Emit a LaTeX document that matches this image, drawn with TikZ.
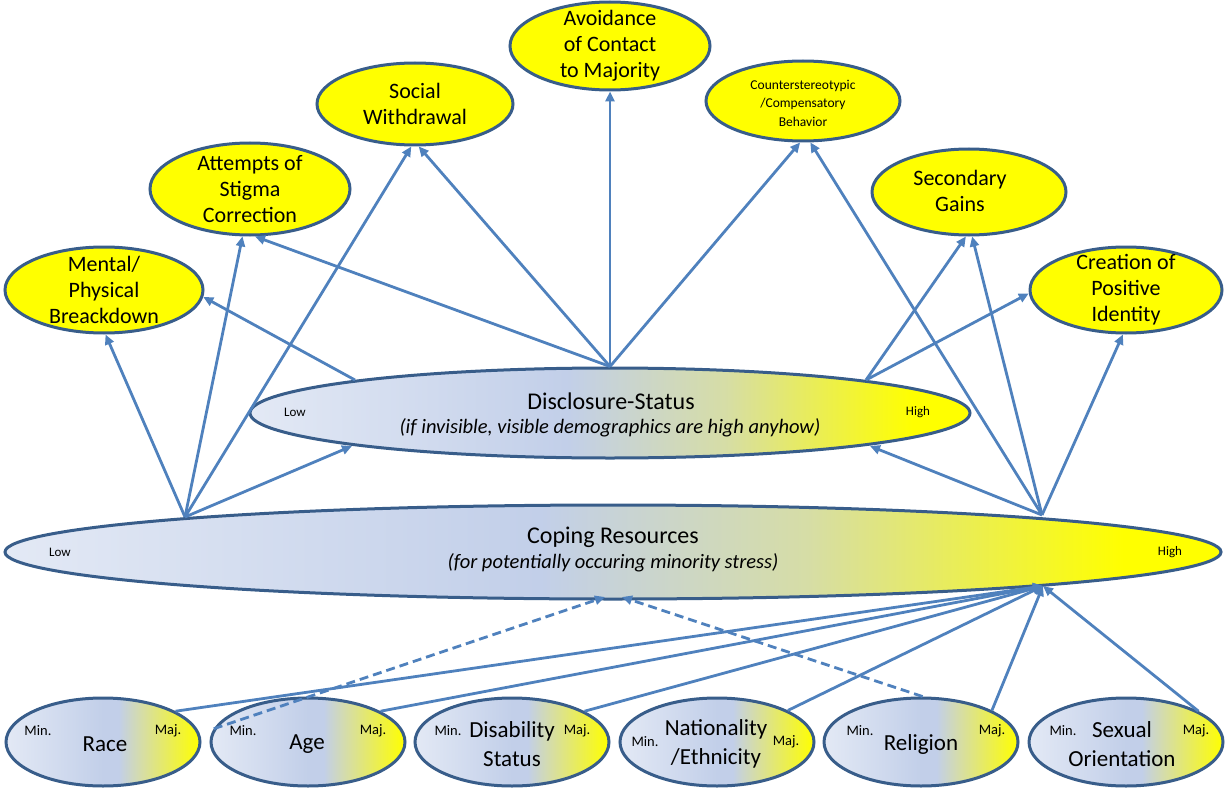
\documentclass[tikz,border=0pt]{standalone}
\usepackage{fontspec}
\setmainfont{Carlito}
\usetikzlibrary{arrows.meta,shapes.geometric,calc}
\definecolor{lineblue}{HTML}{4F81BD}
\definecolor{edgeblue}{HTML}{385D8A}
\definecolor{lightblu}{HTML}{E3E9F5}
\definecolor{midblu}{HTML}{C2CFE9}
\definecolor{myyg}{HTML}{D6DDA6}
\definecolor{myyellow}{HTML}{FFFF00}
\pgfdeclarehorizontalshading{wideshade}{100bp}{color(0bp)=(lightblu); color(25bp)=(lightblu); color(47bp)=(midblu); color(58bp)=(myyg); color(71bp)=(myyellow); color(100bp)=(myyellow)}
\pgfdeclarehorizontalshading{smallshade}{100bp}{color(0bp)=(lightblu); color(25bp)=(lightblu); color(50bp)=(midblu); color(54bp)=(midblu); color(60bp)=(myyg); color(75bp)=(myyellow); color(100bp)=(myyellow)}
\begin{document}
\begin{tikzpicture}[x=1pt,y=-1pt,
  ell/.style={ellipse, draw=edgeblue, line width=3pt, inner sep=0pt},
  topell/.style={ell, fill=myyellow},
  botell/.style={ell, shading=smallshade, minimum width=194pt, minimum height=88pt},
  txt/.style={align=center, inner sep=0pt, font=\fontsize{22}{26}\selectfont},
  bigtxt/.style={align=center, inner sep=0pt, font=\fontsize{23}{29}\selectfont},
  headtxt/.style={inner sep=0pt, font=\fontsize{24}{29}\selectfont},
  smalltxt/.style={align=center, inner sep=0pt, font=\fontsize{13.5}{18.5}\selectfont},
  subtxt/.style={inner sep=0pt, font=\itshape\fontsize{20.5}{24}\selectfont},
  tag/.style={inner sep=0pt, font=\fontsize{13}{15}\selectfont},
  mtag/.style={inner sep=0pt, font=\fontsize{14.5}{16}\selectfont},
  arr/.style={lineblue, line width=2.8pt, -{Triangle[length=10pt,width=9pt]}},
  darr/.style={arr, dash pattern=on 9pt off 5pt}]
\useasboundingbox (0,0) rectangle (1226,789);

% top outcome ellipses
\node[topell, minimum width=198pt, minimum height=86pt] (mental) at (104,290) {};
\node[txt] (mental-t) at (mental) {Mental/\\Physical\\Breackdown};
\node[topell, minimum width=200pt, minimum height=92pt] (att) at (250,189) {};
\node[txt] (att-t) at (att) {Attempts of\\Stigma\\Correction};
\node[topell, minimum width=196pt, minimum height=82pt] (social) at (415,104) {};
\node[txt] (social-t) at (415,104) {Social\\Withdrawal};
\node[topell, minimum width=200pt, minimum height=88pt] (avoid) at (610,46) {};
\node[txt] (avoid-t) at (610,46) {Avoidance\\of Contact\\to Majority};
\node[topell, minimum width=194pt, minimum height=80pt] (counter) at (803,101) {};
\node[smalltxt] (counter-t) at (803,103) {Counterstereotypic\\/Compensatory\\Behavior};
\node[topell, minimum width=194pt, minimum height=86pt] (second) at (969,192) {};
\node[txt] (second-t) at (960,191) {Secondary\\Gains};
\node[topell, minimum width=192pt, minimum height=86pt] (create) at (1126,290) {};
\node[txt] (create-t) at (create) {Creation of\\Positive\\Identity};

% disclosure status
\node[ell, shading=wideshade, minimum width=720pt, minimum height=90pt] (disc) at (610,413) {};
\node[headtxt] (disc-t) at (611,401) {Disclosure-Status};
\node[subtxt] (disc-s) at (610,428) {(if invisible, visible demographics are high anyhow)};
\node[tag] (disc-lo) at (295,412) {Low};
\node[tag] (disc-hi) at (918,412) {High};

% coping resources
\node[ell, shading=wideshade, minimum width=1216pt, minimum height=94pt] (cope) at (613,552) {};
\node[headtxt] (cope-t) at (613,537) {Coping Resources};
\node[subtxt] (cope-s) at (613,563) {(for potentially occuring minority stress)};
\node[tag] (cope-lo) at (60,552) {Low};
\node[tag] (cope-hi) at (1170,552) {High};

% demographic ellipses
\node[botell] (race) at (103,742) {};
\node[bigtxt] (race-t) at (105,744) {Race};
\node[mtag] (race-mi) at (38,731) {Min.};
\node[mtag] (race-ma) at (168,731) {Maj.};
\node[botell] (age) at (308,742) {};
\node[bigtxt] (age-t) at (307,744) {Age};
\node[mtag] (age-mi) at (243,731) {Min.};
\node[mtag] (age-ma) at (373,731) {Maj.};
\node[botell] (disab) at (512,742) {};
\node[bigtxt] (disab-t) at (512,744) {Disability\\Status};
\node[mtag] (disab-mi) at (448,731) {Min.};
\node[mtag] (disab-ma) at (577,731) {Maj.};
\node[botell] (nation) at (717,742) {};
\node[bigtxt] (nation-t) at (716,744) {Nationality\\/Ethnicity};
\node[mtag] (nation-mi) at (645,742) {Min.};
\node[mtag] (nation-ma) at (786,742) {Maj.};
\node[botell] (relig) at (921,742) {};
\node[bigtxt] (relig-t) at (921,744) {Religion};
\node[mtag] (relig-mi) at (860,731) {Min.};
\node[mtag] (relig-ma) at (992,731) {Maj.};
\node[botell] (sexual) at (1126,742) {};
\node[bigtxt] (sexual-t) at (1122,744) {Sexual\\Orientation};
\node[mtag] (sexual-mi) at (1063,731) {Min.};
\node[mtag] (sexual-ma) at (1196,731) {Maj.};

% junction points on the two wide ellipses
\coordinate (L) at ($(cope.center)+(-428,-35)$);
\coordinate (R) at ($(cope.center)+(429,-37)$);
\coordinate (RB) at ($(cope.center)+(430,34)$);
\coordinate (CBL) at ($(cope.center)+(-8,45)$);
\coordinate (CBR) at ($(cope.center)+(9,45)$);
\coordinate (DT) at (disc.north);
\coordinate (DTL) at ($(disc.center)+(-255,-33)$);
\coordinate (DTR) at ($(disc.center)+(256,-33)$);
\coordinate (DBL) at ($(disc.center)+(-258,33)$);
\coordinate (DBR) at ($(disc.center)+(260,33)$);

% upward connectors
\draw[arr] (L) -- (mental.-88);
\draw[arr] (L) -- (att.-99);
\draw[arr] (L) -- (social.-95);
\draw[arr] (L) -- (DBL);
\draw[arr] (DTL) -- (mental.-4);
\draw[arr] (DT) -- (att.-84);
\draw[arr] (DT) -- (social.-85);
\draw[arr] (DT) -- (avoid.south);
\draw[arr] (DT) -- (counter.-94);
\draw[arr] (DTR) -- (second.-94);
\draw[arr] (DTR) -- (create.182);
\draw[arr] (R) -- (counter.-80);
\draw[arr] (R) -- (second.-86);
\draw[arr] (R) -- (create.-94);
\draw[arr] (R) -- (DBR);

% demographics to coping
\draw[arr] (race.23) -- (RB);
\draw[arr] (age.23) -- (RB);
\draw[arr] (disab.23) -- (RB);
\draw[arr] (nation.24) -- (RB);
\draw[arr] (relig.24) -- (RB);
\draw[arr] (sexual.23) -- (RB);
\draw[darr] (age.172) -- (CBL);
\draw[darr] (relig.88) -- (CBR);
\end{tikzpicture}
\end{document}
